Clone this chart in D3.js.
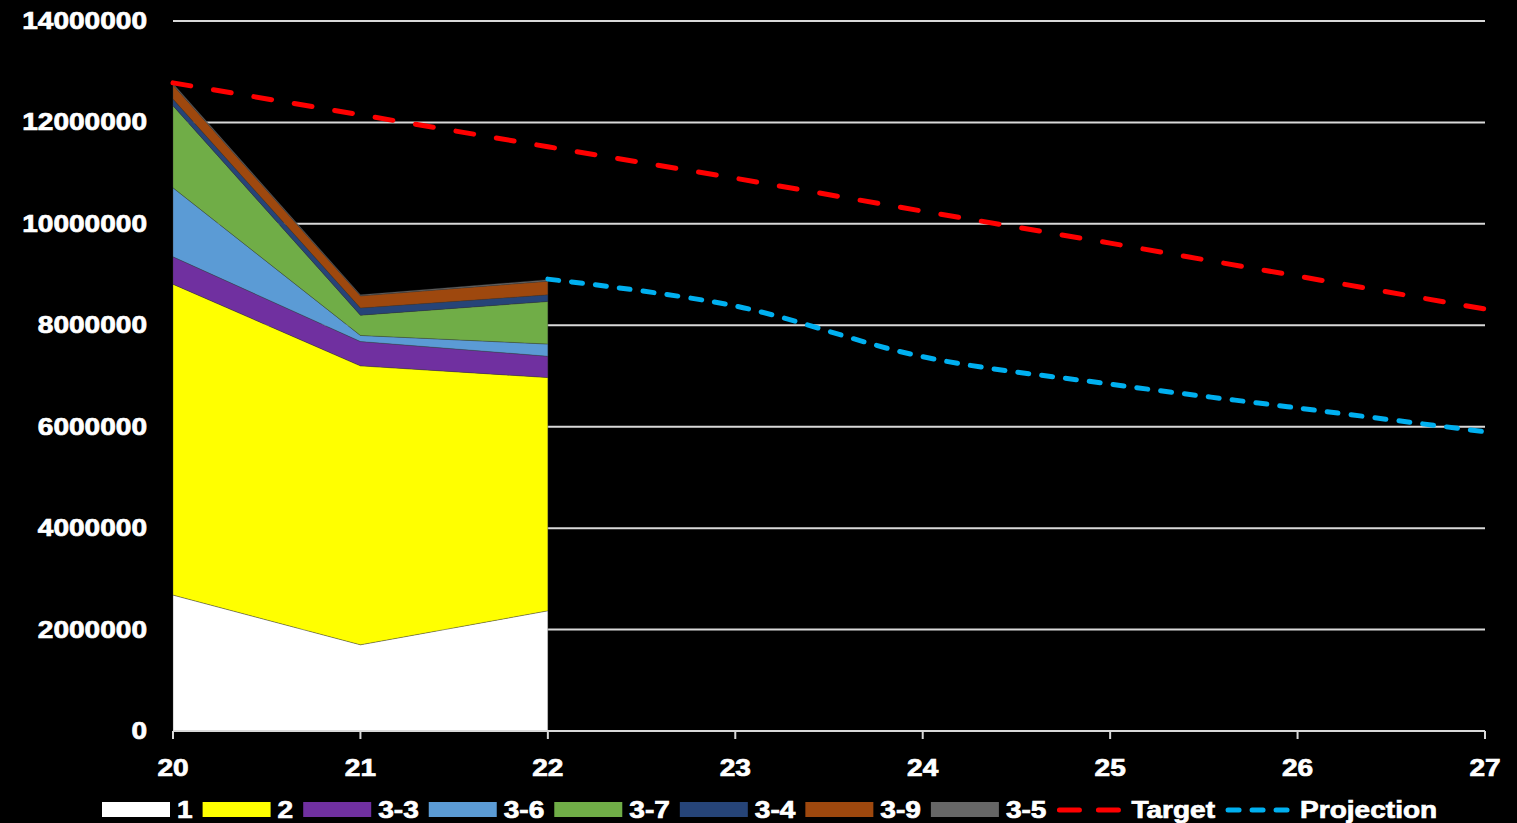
<!DOCTYPE html>
<html><head><meta charset="utf-8">
<script src="https://cdn.jsdelivr.net/npm/d3@7"></script>
<style>
html,body{margin:0;padding:0;background:#000;}
svg{display:block;}
text{font-family:"Liberation Sans",Arial,sans-serif;font-weight:bold;fill:#fff;stroke:#fff;stroke-width:0.7px;}
</style></head>
<body>
<svg id="chart" width="1517" height="823"></svg>
<script>
// ---- data ----
const years = ["20","21","22","23","24","25","26","27"];
const stackKeys = ["1","2","3-3","3-6","3-7","3-4","3-9","3-5"];
const s1  = [2680000, 1700000, 2370000];
const s2  = [6130000, 5500000, 4600000];
const s33 = [540000, 480000, 420000];
const s36 = [1360000, 120000, 240000];
const s37 = [1620000, 400000, 840000];
const s34 = [130000, 140000, 130000];
const s39 = [280000, 240000, 270000];
const s35 = [30000, 20000, 30000];
const target = [12780000, 12150000, 11520000, 10900000, 10250000, 9620000, 8970000, 8320000];
const projection = [null, null, 8910000, 8380000, 7380000, 6840000, 6370000, 5900000];
const yTicks = [0, 2000000, 4000000, 6000000, 8000000, 10000000, 12000000, 14000000];
const colors = {"1":"#ffffff","2":"#ffff00","3-3":"#7030a0","3-6":"#5b9bd5","3-7":"#70ad47","3-4":"#264478","3-9":"#9e480e","3-5":"#666666"};

const seriesVals = {"1":s1,"2":s2,"3-3":s33,"3-6":s36,"3-7":s37,"3-4":s34,"3-9":s39,"3-5":s35};
const rows = s1.map((_, i) => {
  const r = {year: years[i]};
  stackKeys.forEach(k => r[k] = seriesVals[k][i]);
  return r;
});

const svg = d3.select("#chart");
const L = 173, R = 1485, T = 21, B = 731;
const x = d3.scalePoint().domain(years).range([L, R]);
const y = d3.scaleLinear().domain([0, 14000000]).range([B, T]);
const SX = 1.22; // horizontal text stretch

function txt(g, xx, yy, s, anchor, size) {
  return g.append("text")
    .attr("transform", `translate(${xx},${yy}) scale(${SX},1)`)
    .attr("font-size", size)
    .attr("text-anchor", anchor)
    .text(s);
}

// gridlines
svg.append("g").selectAll("line").data(yTicks.slice(1)).join("line")
  .attr("x1", L).attr("x2", R).attr("y1", d => y(d)).attr("y2", d => y(d))
  .attr("stroke", "#d9d9d9").attr("stroke-width", 2);

// stacked areas
const stack = d3.stack().keys(stackKeys);
const layers = stack(rows);
const area = d3.area().x(d => x(d.data.year)).y0(d => y(d[0])).y1(d => y(d[1]));
svg.append("g").selectAll("path").data(layers).join("path")
  .attr("d", area)
  .attr("fill", d => colors[d.key])
  .attr("stroke", "rgba(60,60,60,0.5)").attr("stroke-width", 0.7);

// x axis line + ticks
const ax = svg.append("g");
ax.append("line").attr("x1", L).attr("x2", R).attr("y1", y(0)).attr("y2", y(0))
  .attr("stroke", "#d9d9d9").attr("stroke-width", 2);
ax.selectAll("line.t").data(years).join("line").attr("class","t")
  .attr("x1", d => x(d)).attr("x2", d => x(d)).attr("y1", y(0)).attr("y2", y(0) + 8)
  .attr("stroke", "#d9d9d9").attr("stroke-width", 2);
years.forEach(yr => txt(ax, x(yr), 776, yr, "middle", 23));

// y labels
yTicks.forEach(v => txt(svg, 147, y(v) + 8, String(v), "end", 23));

// lines
const tLine = d3.line().x((d, i) => x(years[i])).y(d => y(d));
svg.append("path").attr("d", tLine(target))
  .attr("fill", "none").attr("stroke", "#ff0000").attr("stroke-width", 5)
  .attr("stroke-dasharray", "18,23").attr("stroke-linecap", "round");

const pLine = d3.line().defined(d => d != null)
  .x((d, i) => x(years[i])).y(d => y(d)).curve(d3.curveCatmullRom.alpha(0.5));
svg.append("path").attr("d", pLine(projection))
  .attr("fill", "none").attr("stroke", "#00b0f0").attr("stroke-width", 5)
  .attr("stroke-dasharray", "11,13").attr("stroke-linecap", "round");

// legend
const lg = svg.append("g");
const items = stackKeys.map(k => ({name: k, type: "rect", color: colors[k]}))
  .concat([{name: "Target", type: "line", color: "#ff0000"},
           {name: "Projection", type: "line", color: "#00b0f0"}]);
let cx = 102;
const ly = 810;
items.forEach(it => {
  if (it.type === "rect") {
    lg.append("rect").attr("x", cx).attr("y", ly - 8).attr("width", 68).attr("height", 15).attr("fill", it.color);
  } else {
    lg.append("line").attr("x1", cx + 3).attr("x2", cx + 65).attr("y1", ly).attr("y2", ly)
      .attr("stroke", it.color).attr("stroke-width", 5).attr("stroke-linecap", "round")
      .attr("stroke-dasharray", it.name === "Target" ? "20,19" : "11,13");
  }
  cx += 68 + 7;
  const t = txt(lg, cx, ly + 8, it.name, "start", 23);
  cx += t.node().getComputedTextLength() * SX + 10;
});
</script>
</body></html>
